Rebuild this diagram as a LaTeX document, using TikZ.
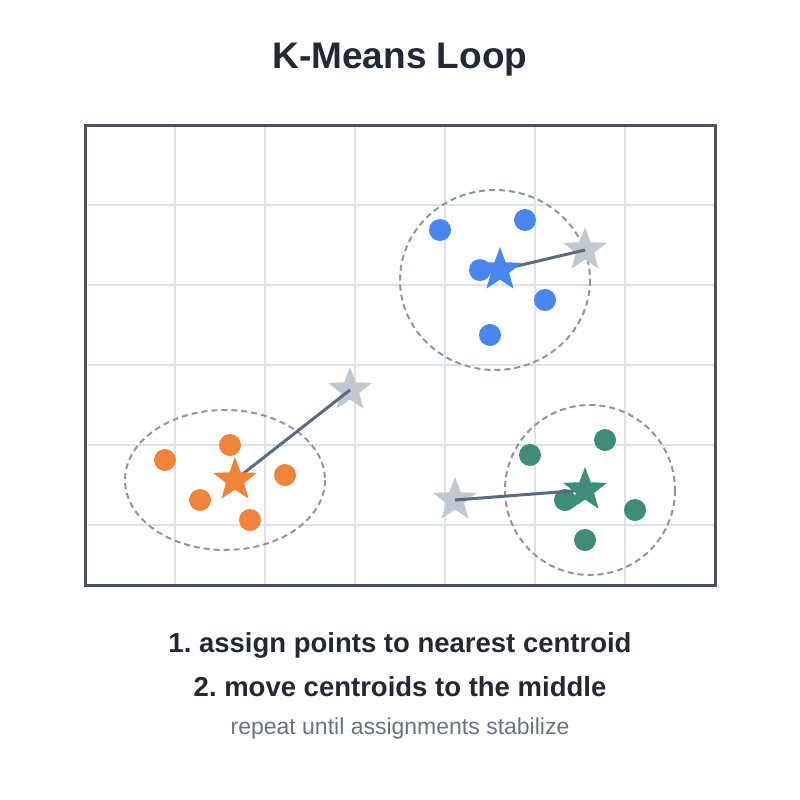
\documentclass[tikz,border=0pt]{standalone}
\usepackage{fontspec}
\setmainfont{Liberation Sans}
\usetikzlibrary{shapes.geometric}
\definecolor{frame}{HTML}{4A5162}
\definecolor{grid}{HTML}{DDE3EC}
\definecolor{cblue}{HTML}{4A86F0}
\definecolor{corange}{HTML}{F0843A}
\definecolor{cgreen}{HTML}{3F8C7A}
\definecolor{cold}{HTML}{C0C8D2}
\definecolor{cline}{HTML}{5A6A80}
\definecolor{cdash}{HTML}{8A96A6}
\definecolor{ctext}{HTML}{222834}
\definecolor{csub}{HTML}{6A7282}
\frenchspacing
\begin{document}
\begin{tikzpicture}[x=1pt,y=-1pt,
  pt/.style={circle,inner sep=0,minimum size=22pt,fill=#1},
  st/.style={star,star points=5,star point ratio=2.4,inner sep=0,minimum size=46pt,fill=#1},
  hull/.style={draw=cdash,line width=2pt,dash pattern=on 6pt off 4pt},
  move/.style={draw=cline,line width=3pt}]
\useasboundingbox (0,0) rectangle (800,800);
\node[font=\bfseries\fontsize{37}{42}\selectfont,text=ctext] (title) at (400,60) {K-Means Loop};
\foreach \x in {175,265,355,445,535,625} \draw[grid,line width=1.5pt] (\x,125) -- (\x,585);
\foreach \y in {205,285,365,445,525} \draw[grid,line width=1.5pt] (85,\y) -- (715,\y);
\draw[frame,line width=3pt] (85,125) rectangle (715,585);
% blue
\draw[hull] (495,280) ellipse [x radius=95,y radius=90];
\foreach \p/\q [count=\i] in {440/230,525/220,480/270,545/300,490/335} \node[pt=cblue] (b\i) at (\p,\q) {};
\node[st=cold] (bo) at (585,250) {};
\draw[move] (500,270) -- (bo.center);
\node[st=cblue] (bn) at (500,270) {};
% orange
\draw[hull] (225,480) ellipse [x radius=100,y radius=70];
\foreach \p/\q [count=\i] in {165/460,230/445,285/475,200/500,250/520} \node[pt=corange] (o\i) at (\p,\q) {};
\node[st=cold] (oo) at (350,390) {};
\draw[move] (235,480) -- (oo.center);
\node[st=corange] (on) at (235,480) {};
% green
\draw[hull] (590,490) ellipse [x radius=85,y radius=85];
\foreach \p/\q [count=\i] in {530/455,605/440,565/500,635/510,585/540} \node[pt=cgreen] (g\i) at (\p,\q) {};
\node[st=cold] (go) at (455,500) {};
\draw[move] (585,490) -- (go.center);
\node[st=cgreen] (gn) at (585,490) {};
\node[font=\bfseries\fontsize{27.5}{32}\selectfont,text=ctext] (l1) at (400,645) {1. assign points to nearest centroid};
\node[font=\bfseries\fontsize{27.5}{32}\selectfont,text=ctext] (l2) at (400,687) {2. move centroids to the middle};
\node[font=\fontsize{23}{27}\selectfont,text=csub] (l3) at (400,729) {repeat until assignments stabilize};
\end{tikzpicture}
\end{document}
